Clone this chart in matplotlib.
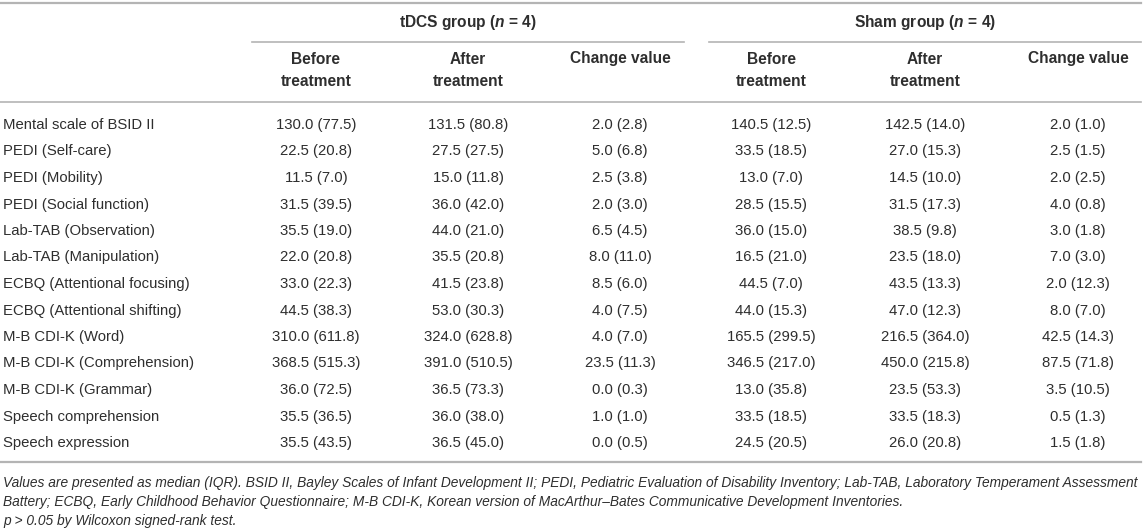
import matplotlib
matplotlib.use("Agg")
import matplotlib.pyplot as plt

plt.rcParams['font.family'] = ['Liberation Sans', 'DejaVu Sans']
plt.rcParams['mathtext.fontset'] = 'custom'
plt.rcParams['mathtext.rm'] = 'Liberation Sans:bold'
plt.rcParams['mathtext.it'] = 'Liberation Sans:bold:italic'

# table contents: median (IQR)
row_labels = [
    "Mental scale of BSID II", "PEDI (Self-care)", "PEDI (Mobility)",
    "PEDI (Social function)", "Lab-TAB (Observation)", "Lab-TAB (Manipulation)",
    "ECBQ (Attentional focusing)", "ECBQ (Attentional shifting)",
    "M-B CDI-K (Word)", "M-B CDI-K (Comprehension)", "M-B CDI-K (Grammar)",
    "Speech comprehension", "Speech expression",
]
tdcs_before = [(130.0, 77.5), (22.5, 20.8), (11.5, 7.0), (31.5, 39.5), (35.5, 19.0),
               (22.0, 20.8), (33.0, 22.3), (44.5, 38.3), (310.0, 611.8), (368.5, 515.3),
               (36.0, 72.5), (35.5, 36.5), (35.5, 43.5)]
tdcs_after = [(131.5, 80.8), (27.5, 27.5), (15.0, 11.8), (36.0, 42.0), (44.0, 21.0),
              (35.5, 20.8), (41.5, 23.8), (53.0, 30.3), (324.0, 628.8), (391.0, 510.5),
              (36.5, 73.3), (36.0, 38.0), (36.5, 45.0)]
tdcs_change = [(2.0, 2.8), (5.0, 6.8), (2.5, 3.8), (2.0, 3.0), (6.5, 4.5),
               (8.0, 11.0), (8.5, 6.0), (4.0, 7.5), (4.0, 7.0), (23.5, 11.3),
               (0.0, 0.3), (1.0, 1.0), (0.0, 0.5)]
sham_before = [(140.5, 12.5), (33.5, 18.5), (13.0, 7.0), (28.5, 15.5), (36.0, 15.0),
               (16.5, 21.0), (44.5, 7.0), (44.0, 15.3), (165.5, 299.5), (346.5, 217.0),
               (13.0, 35.8), (33.5, 18.5), (24.5, 20.5)]
sham_after = [(142.5, 14.0), (27.0, 15.3), (14.5, 10.0), (31.5, 17.3), (38.5, 9.8),
              (23.5, 18.0), (43.5, 13.3), (47.0, 12.3), (216.5, 364.0), (450.0, 215.8),
              (23.5, 53.3), (33.5, 18.3), (26.0, 20.8)]
sham_change = [(2.0, 1.0), (2.5, 1.5), (2.0, 2.5), (4.0, 0.8), (3.0, 1.8),
               (7.0, 3.0), (2.0, 12.3), (8.0, 7.0), (42.5, 14.3), (87.5, 71.8),
               (3.5, 10.5), (0.5, 1.3), (1.5, 1.8)]

group_titles = [r"tDCS group ($n$ = 4)", r"Sham group ($n$ = 4)"]
col_headers = ["Before\ntreatment", "After\ntreatment", "Change value"] * 2
footnotes = [
    "Values are presented as median (IQR). BSID II, Bayley Scales of Infant Development II; "
    "PEDI, Pediatric Evaluation of Disability Inventory; Lab-TAB, Laboratory Temperament Assessment",
    "Battery; ECBQ, Early Childhood Behavior Questionnaire; M-B CDI-K, Korean version of "
    "MacArthur\u2013Bates Communicative Development Inventories.",
    "p > 0.05 by Wilcoxon signed-rank test.",
]

columns = [tdcs_before, tdcs_after, tdcs_change, sham_before, sham_after, sham_change]

# layout (pixel coordinates)
W, H = 1144, 530
col_x = [316, 468, 620, 771, 925, 1078]
group_spans = [(252, 684), (709, 1141)]
row_y0, row_dy = 125, 26.5
text_col = '#2e2e2e'
line_col = '#b4b4b4'
fs = 10.7
fs_head = 11.2

fig = plt.figure(figsize=(W / 100, H / 100), dpi=100)
ax = fig.add_axes([0, 0, 1, 1])
ax.set_xlim(0, W)
ax.set_ylim(H, 0)
ax.axis('off')

# rules
ax.plot([0, 1141], [3, 3], color=line_col, lw=1.6)
for x0, x1 in group_spans:
    ax.plot([x0, x1], [41.5, 41.5], color=line_col, lw=1.2)
ax.plot([0, 1141], [102, 102], color=line_col, lw=1.2)
ax.plot([0, 1141], [462, 462], color=line_col, lw=1.6)

# group titles
for (x0, x1), title in zip(group_spans, group_titles):
    ax.text((x0 + x1) / 2, 23, title, ha='center', va='center', fontsize=fs_head,
            fontweight='bold', color=text_col)

# column headers
for x, header in zip(col_x, col_headers):
    for k, line in enumerate(header.split('\n')):
        ax.text(x, 59 + 22 * k, line, ha='center', va='center', fontsize=fs_head,
                fontweight='bold', color=text_col)

# body
for i, label in enumerate(row_labels):
    y = row_y0 + i * row_dy
    ax.text(3, y, label, ha='left', va='center', fontsize=fs, color=text_col)
    for x, col in zip(col_x, columns):
        med, iqr = col[i]
        ax.text(x, y, f"{med:.1f} ({iqr:.1f})", ha='center', va='center',
                fontsize=fs, color=text_col)

# footnotes
for k, note in enumerate(footnotes):
    ax.text(3, 483 + 19 * k, note, ha='left', va='center', fontsize=9.9,
            style='italic', color=text_col)

fig.savefig('out.png', dpi=100)
